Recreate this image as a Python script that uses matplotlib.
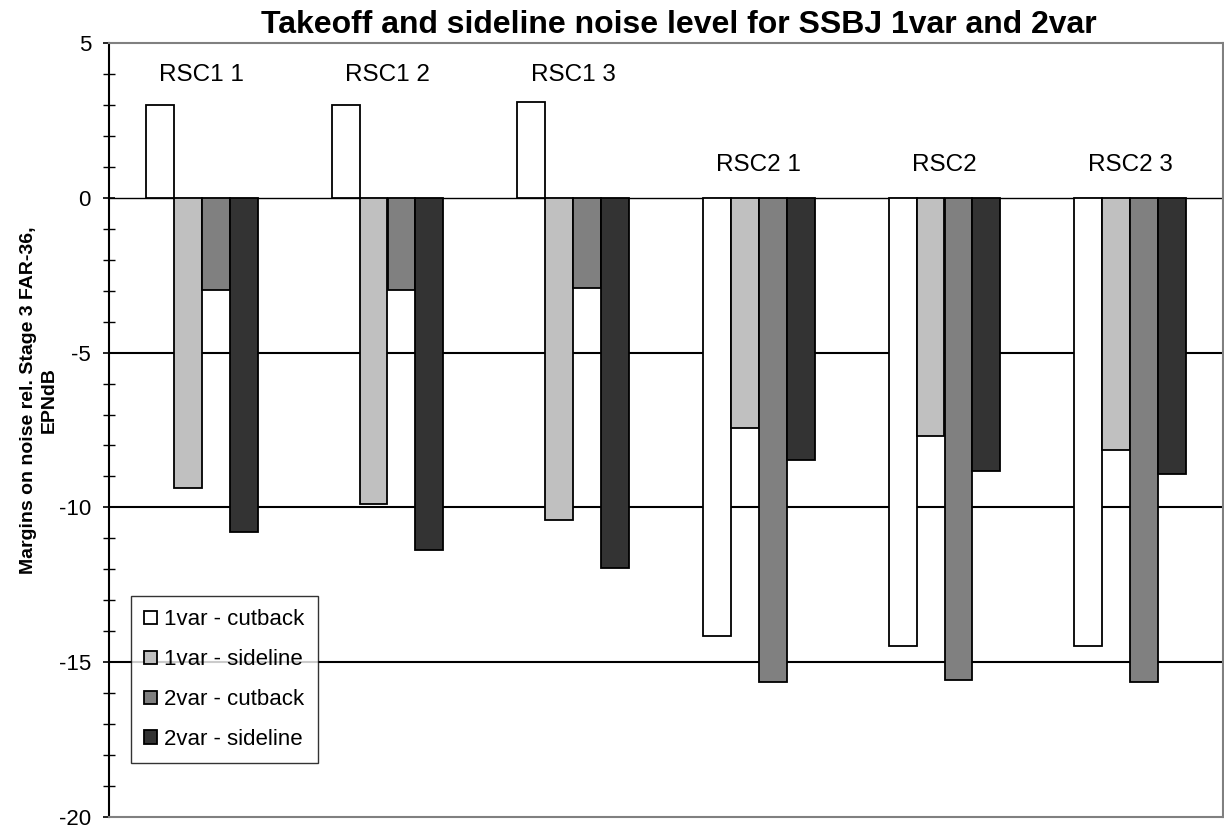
import matplotlib
matplotlib.use("Agg")
import matplotlib.pyplot as plt
import numpy as np

plt.rcParams['font.family'] = ['Liberation Sans', 'DejaVu Sans']
plt.rcParams['axes.unicode_minus'] = False

categories = ["RSC1 1", "RSC1 2", "RSC1 3", "RSC2 1", "RSC2", "RSC2 3"]
series_names = ["1var - cutback", "1var - sideline", "2var - cutback", "2var - sideline"]
var1_cutback = [3.0, 3.0, 3.1, -14.15, -14.48, -14.48]
var1_sideline = [-9.37, -9.89, -10.40, -7.42, -7.69, -8.15]
var2_cutback = [-2.97, -2.97, -2.91, -15.64, -15.58, -15.64]
var2_sideline = [-10.80, -11.39, -11.97, -8.48, -8.81, -8.92]
label_y = [3.97, 3.97, 3.97, 1.07, 1.07, 1.07]
colors = ["#FFFFFF", "#C0C0C0", "#808080", "#333333"]

fig = plt.figure(figsize=(12.24, 8.30), dpi=100)
ax = fig.add_axes([109/1224, 1-817/830, (1223-109)/1224, (817-43)/830])

x = np.arange(len(categories))
w = 0.15
series = [var1_cutback, var1_sideline, var2_cutback, var2_sideline]
for i, (vals, c, name) in enumerate(zip(series, colors, series_names)):
    ax.bar(x + (i - 1.5) * w, vals, width=w, color=c, edgecolor="black",
           linewidth=1.3, label=name, zorder=3)

for yv in [0, -5, -10, -15]:
    ax.axhline(yv, color="black", linewidth=1.5 if yv != 0 else 1.0, zorder=1)

for xi, lab, ly in zip(x, categories, label_y):
    ax.text(xi, ly, lab, ha="center", va="center", fontsize=17.5)

ax.set_xlim(-0.5, len(categories) - 0.5)
ax.set_ylim(-20, 5)
ax.set_yticks([5, 0, -5, -10, -15, -20])
ax.set_yticks(np.arange(-20, 6, 1), minor=True)
ax.set_xticks([])
ax.tick_params(axis="y", which="major", direction="inout", length=8, width=1.2, labelsize=16, pad=9)
ax.tick_params(axis="y", which="minor", direction="inout", length=8, width=1.0)

for s in ["top", "right", "bottom"]:
    ax.spines[s].set_color("#808080")
    ax.spines[s].set_linewidth(1.5)
ax.spines["left"].set_color("black")
ax.spines["left"].set_linewidth(1.5)

ax.set_ylabel("Margins on noise rel. Stage 3 FAR-36,\nEPNdB", fontsize=14,
              fontweight="bold", linespacing=1.3)
ax.yaxis.set_label_coords(-0.046, (817-400)/774)
fig.text(679/1224, 1-25/830, "Takeoff and sideline noise level for SSBJ 1var and 2var",
         ha="center", va="center", fontsize=23, fontweight="bold")

leg = ax.legend(loc="upper left", bbox_to_anchor=((131-109)/1114, 1 - (596-43)/774),
                frameon=True, fancybox=False, fontsize=16, handlelength=0.55,
                handleheight=0.55, handletextpad=0.35, labelspacing=0.85,
                borderpad=0.6, borderaxespad=0)
leg.get_frame().set_edgecolor("black")
leg.get_frame().set_linewidth(1.0)
leg.set_zorder(5)

fig.savefig("out.png", dpi=100)
